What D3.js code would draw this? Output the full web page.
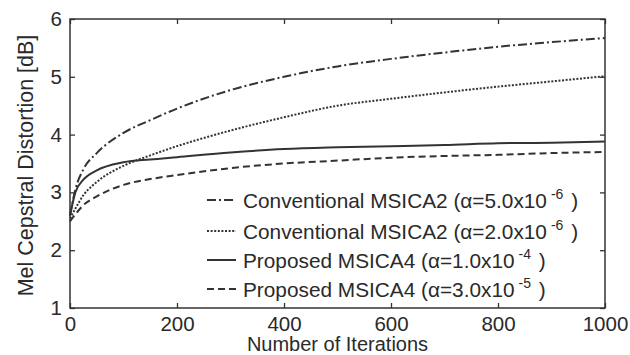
<!DOCTYPE html>
<html>
<head>
<meta charset="utf-8">
<script src="https://cdn.jsdelivr.net/npm/d3@7/dist/d3.min.js"></script>
<style>
  body { margin: 0; background: #fff; }
  text { font-family: "Liberation Sans", Arial, sans-serif; fill: #2a2a2a; }
</style>
</head>
<body>
<div id="chart"></div>
<script>
// data (iterations vs distortion in dB)
const iterations = [0, 10, 25, 50, 100, 150, 200, 300, 400, 500, 600, 700, 800, 900, 1000];
const conv5e6 = [2.6, 3.05, 3.4, 3.68, 4.03, 4.25, 4.45, 4.77, 5.0, 5.18, 5.31, 5.42, 5.52, 5.6, 5.67];
const conv2e6 = [2.55, 2.72, 2.95, 3.18, 3.46, 3.64, 3.8, 4.07, 4.3, 4.5, 4.62, 4.73, 4.83, 4.92, 5.01];
const prop1e4 = [2.6, 3.0, 3.22, 3.38, 3.52, 3.57, 3.61, 3.69, 3.75, 3.78, 3.8, 3.82, 3.85, 3.86, 3.88];
const prop3e5 = [2.5, 2.62, 2.78, 2.93, 3.13, 3.23, 3.3, 3.42, 3.5, 3.55, 3.6, 3.63, 3.65, 3.68, 3.7];

const xTicks = [0, 200, 400, 600, 800, 1000];
const yTicks = [1, 2, 3, 4, 5, 6];

const seriesNames = ["Conventional MSICA2", "Conventional MSICA2", "Proposed MSICA4", "Proposed MSICA4"];
const alphaMant = ["5.0", "2.0", "1.0", "3.0"];
const alphaExp = ["-6", "-6", "-4", "-5"];
const dashes = ["9,3,2,3", "2,1.6", null, "7,4"];

const width = 630, height = 355;
const margin = { top: 19, right: 25, bottom: 47, left: 70 };

const svg = d3.select("#chart").append("svg")
  .attr("width", width)
  .attr("height", height);

const x = d3.scaleLinear().domain([0, 1000]).range([margin.left, width - margin.right]);
const y = d3.scaleLinear().domain([1, 6]).range([height - margin.bottom, margin.top]);

const ink = "#333";
const fmt = d3.format("d");

// axes, ticks pointing inwards like matlab
const axBottom = svg.append("g")
  .attr("transform", "translate(0," + y(1) + ")")
  .call(d3.axisBottom(x).tickValues(xTicks).tickFormat(fmt).tickSizeInner(-5).tickSizeOuter(0).tickPadding(8));
const axLeft = svg.append("g")
  .attr("transform", "translate(" + x(0) + ",0)")
  .call(d3.axisLeft(y).tickValues(yTicks).tickFormat(fmt).tickSizeInner(-5).tickSizeOuter(0).tickPadding(8));
const axTop = svg.append("g")
  .attr("transform", "translate(0," + y(6) + ")")
  .call(d3.axisTop(x).tickValues(xTicks).tickSizeInner(-5).tickSizeOuter(0).tickFormat(""));
const axRight = svg.append("g")
  .attr("transform", "translate(" + x(1000) + ",0)")
  .call(d3.axisRight(y).tickValues(yTicks).tickSizeInner(-5).tickSizeOuter(0).tickFormat(""));

[axBottom, axLeft, axTop, axRight].forEach(g => {
  g.select(".domain").remove();
  g.selectAll("line").attr("stroke", ink).attr("stroke-width", 1.3);
  g.selectAll("text").style("font-size", "20.5px").attr("fill", "#2a2a2a");
});

svg.append("rect")
  .attr("x", x(0)).attr("y", y(6))
  .attr("width", x(1000) - x(0)).attr("height", y(1) - y(6))
  .attr("fill", "none").attr("stroke", ink).attr("stroke-width", 1.5);

// axis titles
svg.append("text")
  .attr("x", (x(0) + x(1000)) / 2)
  .attr("y", 351)
  .attr("text-anchor", "middle")
  .style("font-size", "20px")
  .text("Number of Iterations");

svg.append("text")
  .attr("transform", "translate(33," + ((y(1) + y(6)) / 2 + 2) + ") rotate(-90)")
  .attr("text-anchor", "middle")
  .style("font-size", "21.5px")
  .text("Mel Cepstral Distortion [dB]");

// curves
const allSeries = [conv5e6, conv2e6, prop1e4, prop3e5];
const line = d3.line()
  .x(d => x(d[0]))
  .y(d => y(d[1]))
  .curve(d3.curveMonotoneX);

allSeries.forEach((vals, i) => {
  const pts = iterations.map((it, j) => [it, vals[j]]);
  svg.append("path")
    .datum(pts)
    .attr("d", line)
    .attr("fill", "none")
    .attr("stroke", ink)
    .attr("stroke-width", 2)
    .attr("stroke-dasharray", dashes[i]);
});

// legend
const legendRows = [200, 231, 260, 289];
const leg = svg.append("g");
allSeries.forEach((vals, i) => {
  const ry = legendRows[i];
  leg.append("line")
    .attr("x1", 207).attr("x2", 236)
    .attr("y1", ry).attr("y2", ry)
    .attr("stroke", ink)
    .attr("stroke-width", 2)
    .attr("stroke-dasharray", dashes[i]);
  const t = leg.append("text")
    .attr("x", 243)
    .attr("y", ry + 7.5)
    .style("font-size", "20.8px");
  t.append("tspan").text(seriesNames[i] + " (\u03b1=" + alphaMant[i] + "x10");
  t.append("tspan").attr("dx", 4).attr("dy", -9).style("font-size", "14px").text(alphaExp[i]);
  t.append("tspan").attr("dx", 2).attr("dy", 9).text(" )");
});
</script>
</body>
</html>
